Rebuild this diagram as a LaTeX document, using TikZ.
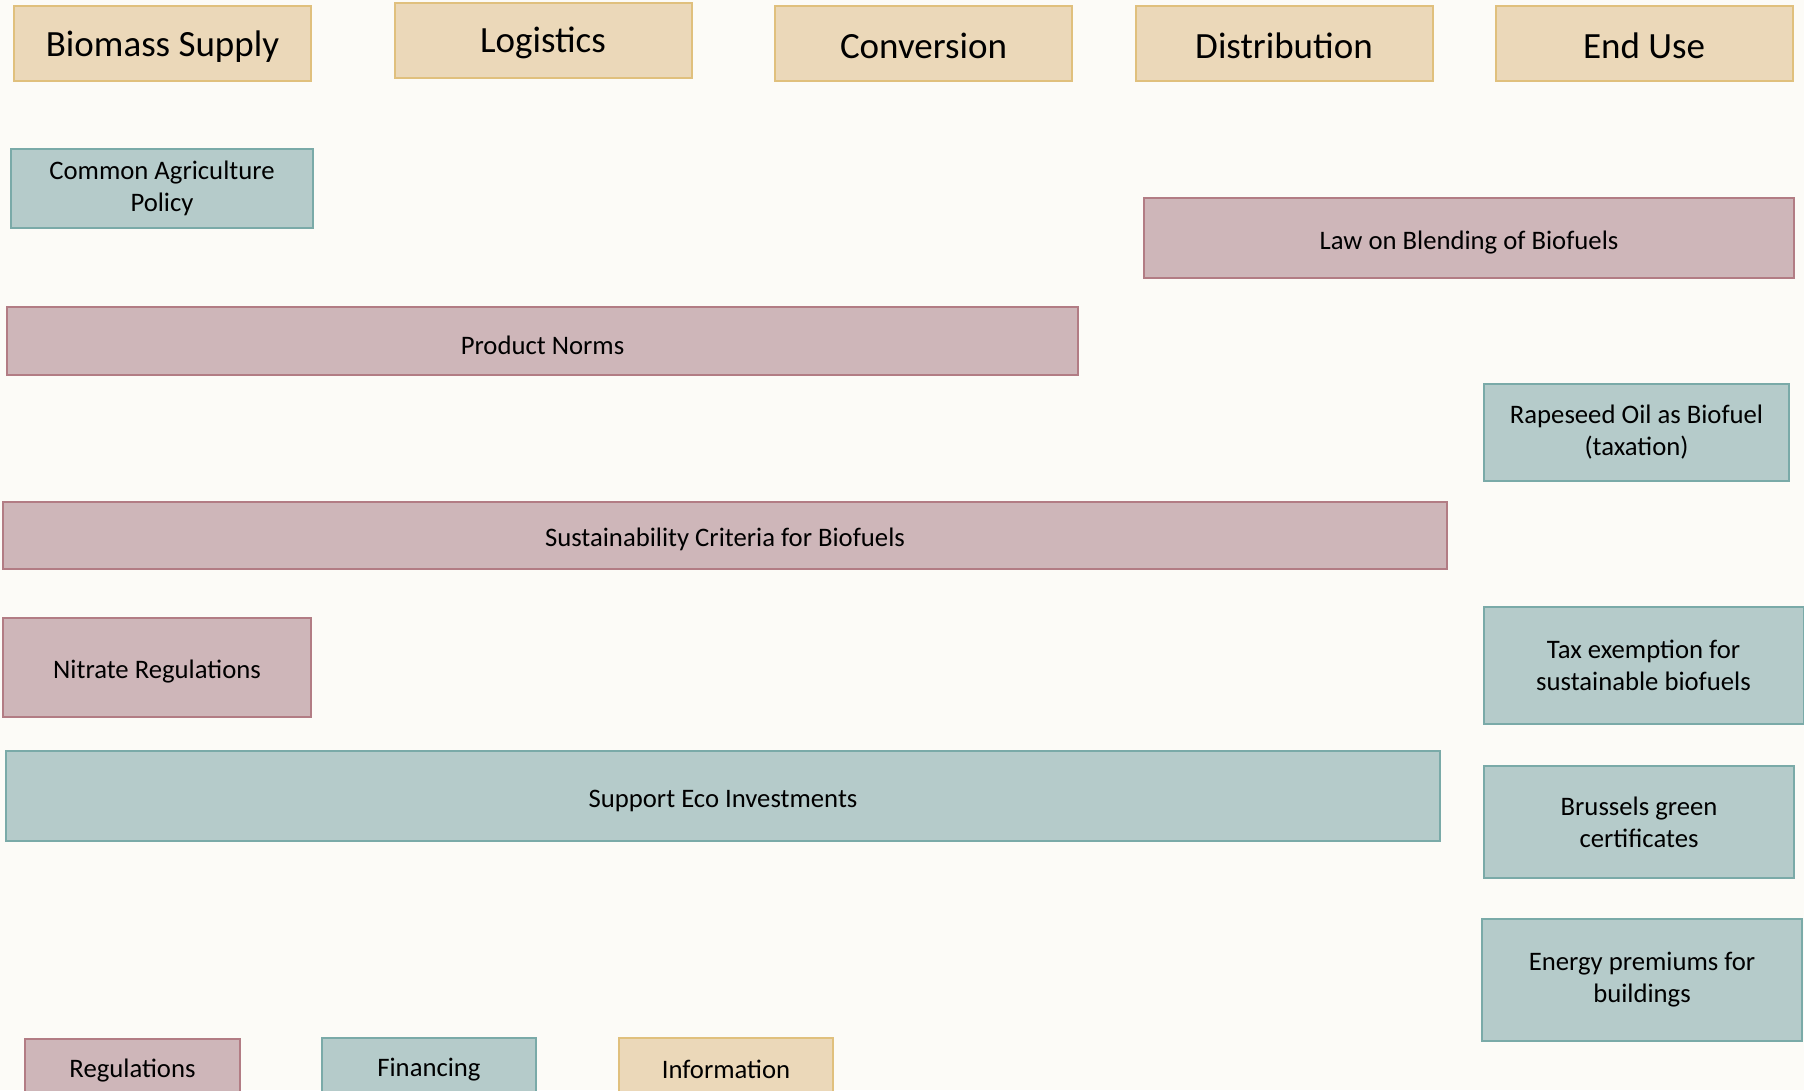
\documentclass[tikz,border=0pt]{standalone}
\usepackage{fontspec}
\setmainfont{Carlito}
\usetikzlibrary{positioning}

\definecolor{paper}{RGB}{252,251,247}
\definecolor{infofill}{RGB}{235,216,185}
\definecolor{infoline}{RGB}{224,192,125}
\definecolor{finfill}{RGB}{181,203,202}
\definecolor{finline}{RGB}{122,170,168}
\definecolor{regfill}{RGB}{206,182,185}
\definecolor{regline}{RGB}{178,124,132}

\begin{document}
\begin{tikzpicture}[x=1pt,y=-1pt,
	box/.style={rectangle,draw,line width=2pt,align=center,inner sep=0pt,
		font=\fontsize{26.7}{32}\selectfont,
		execute at begin node={\rule{0pt}{27pt}}},
	stage/.style={box,fill=infofill,draw=infoline,minimum width=297pt,minimum height=75pt,
		font=\fontsize{37}{44}\selectfont,
		execute at begin node={\rule{0pt}{31pt}}},
	regbox/.style={box,fill=regfill,draw=regline},
	finbox/.style={box,fill=finfill,draw=finline},
	infobox/.style={box,fill=infofill,draw=infoline}]

\useasboundingbox[fill=paper] (0,0) rectangle (1804,1090);
\clip (0,0) rectangle (1804,1090);

\node[stage]   (bs) at (162.5,43.5)      {Biomass Supply};
\node[stage]   (lg) at (543,40)          {Logistics};
\node[stage]   (cv) at (923.5,43.5)      {Conversion};
\node[stage]   (ds) at (1284,43.5)       {Distribution};
\node[stage]   (eu) at (1644,43.5)       {End Use};

\node[finbox,minimum width=302pt,minimum height=79pt]   (cap) at (162,188)     {Common Agriculture\\Policy};
\node[regbox,minimum width=650pt,minimum height=80pt]   (law) at (1469,238)    {Law on Blending of Biofuels};
\node[regbox,minimum width=1071pt,minimum height=68pt]  (pn)  at (542.5,341)   {Product Norms};
\node[finbox,minimum width=305pt,minimum height=97pt]   (rape) at (1636.5,432) {Rapeseed Oil as Biofuel\\(taxation)};
\node[regbox,minimum width=1444pt,minimum height=67pt]  (sus) at (725,535.5)    {Sustainability Criteria for Biofuels};
\node[regbox,minimum width=308pt,minimum height=99pt]   (nit) at (157,667.5)    {Nitrate Regulations};
\node[finbox,minimum width=320pt,minimum height=117pt]  (tax) at (1643.5,665.5) {Tax exemption for\\sustainable biofuels};
\node[finbox,minimum width=1434pt,minimum height=90pt]  (eco) at (723,796)      {Support Eco Investments};
\node[finbox,minimum width=310pt,minimum height=112pt]  (bru) at (1639,822)     {Brussels green\\certificates};
\node[finbox,minimum width=320pt,minimum height=122pt]  (en)  at (1642,980)     {Energy premiums for\\buildings};

\node[regbox,minimum width=215pt,minimum height=54pt]   (reg) at (132.5,1066)  {Regulations};
\node[finbox,minimum width=214pt,minimum height=54pt]   (fin) at (429,1065)    {Financing};
\node[infobox,minimum width=214pt,minimum height=54pt]  (inf) at (726,1065)    {Information};

\end{tikzpicture}
\end{document}
